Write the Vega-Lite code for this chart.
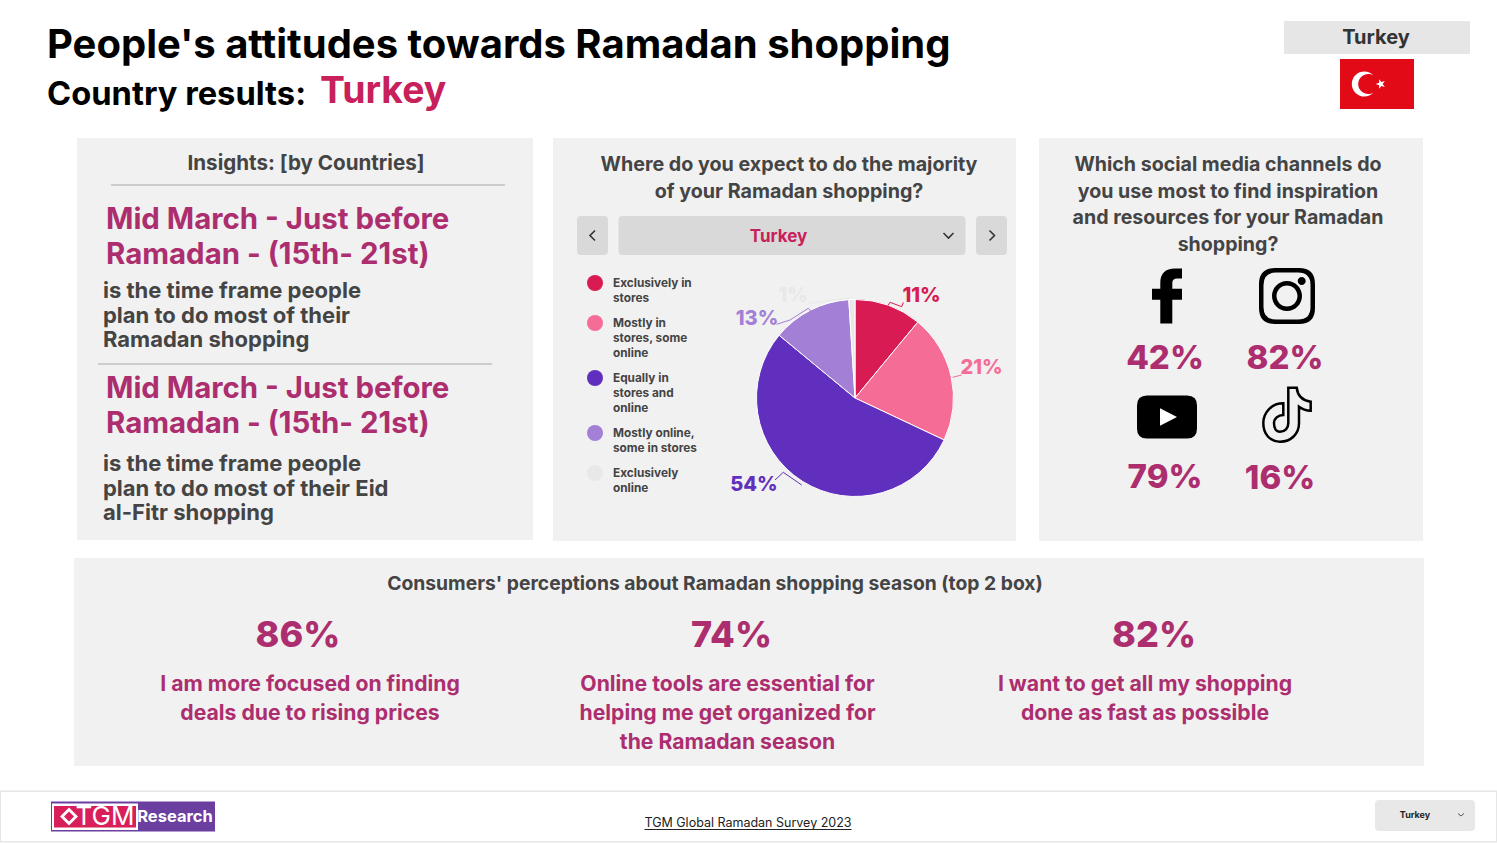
{
  "$schema": "https://vega.github.io/schema/vega-lite/v6.json",
  "description": "TGM Global Ramadan Survey 2023, country results for Turkey.",
  "padding": 0,
  "background": "#ffffff",
  "resolve": {"scale": {"shape": "independent"}},
  "config": {
    "view": {"stroke": null},
    "concat": {"spacing": 0},
    "text": {"font": "Inter", "fontWeight": "bold"},
    "point": {"opacity": 1, "size": 4}
  },
  "vconcat": [
    {
      "hconcat": [
        {
          "width": 1284,
          "height": 138,
          "layer": [
            {
              "data": {"values": [{"text": "People's attitudes towards Ramadan shopping"}]},
              "mark": {"type": "text", "align": "left", "baseline": "alphabetic", "fontSize": 40, "dx": -595, "dy": -11, "color": "#000000"},
              "encoding": {"text": {"field": "text"}}
            },
            {
              "data": {"values": [{"text": "Country results:"}]},
              "mark": {"type": "text", "align": "left", "baseline": "alphabetic", "fontSize": 32.7, "dx": -595, "dy": 36, "color": "#000000"},
              "encoding": {"text": {"field": "text"}}
            },
            {
              "data": {"values": [{"text": "Turkey"}]},
              "mark": {"type": "text", "align": "left", "baseline": "alphabetic", "fontSize": 37.4, "dx": -322, "dy": 34, "color": "#c8205a"},
              "encoding": {"text": {"field": "text"}}
            }
          ]
        },
        {
          "vconcat": [
            {"width": 186, "height": 21, "data": {"values": [{}]}, "mark": {"type": "point", "size": 0, "opacity": 0}, "encoding": {}},
            {
              "width": 186,
              "height": 33,
              "view": {"fill": "#e6e6e6"},
              "data": {"values": [{"text": "Turkey"}]},
              "mark": {"type": "text", "fontSize": 20, "color": "#333333", "dx": -1},
              "encoding": {"text": {"field": "text"}}
            },
            {"width": 186, "height": 5, "data": {"values": [{}]}, "mark": {"type": "point", "size": 0, "opacity": 0}, "encoding": {}},
            {
              "hconcat": [
                {"width": 56, "height": 50, "data": {"values": [{}]}, "mark": {"type": "point", "size": 0, "opacity": 0}, "encoding": {}},
                {
                  "width": 74,
                  "height": 50,
                  "view": {"fill": "#e30a17"},
                  "data": {"values": [{"flag": "Turkey"}]},
                  "mark": {
                    "type": "point",
                    "filled": true,
                    "color": "#ffffff",
                    "shape": "M -3.5 -8.5 A 12.5 12.5 0 1 0 -3.5 8.5 A 10 10 0 1 1 -3.5 -8.5 Z M -1.3 0 L 2.08 -1.18 L 2.15 -4.76 L 4.32 -1.9 L 7.75 -2.94 L 5.7 0 L 7.75 2.94 L 4.32 1.9 L 2.15 4.76 L 2.08 1.18 Z"
                  },
                  "encoding": {}
                },
                {"width": 56, "height": 50, "data": {"values": [{}]}, "mark": {"type": "point", "size": 0, "opacity": 0}, "encoding": {}}
              ]
            },
            {"width": 186, "height": 29, "data": {"values": [{}]}, "mark": {"type": "point", "size": 0, "opacity": 0}, "encoding": {}}
          ]
        },
        {"width": 27, "height": 138, "data": {"values": [{}]}, "mark": {"type": "point", "size": 0, "opacity": 0}, "encoding": {}}
      ]
    },
    {
      "resolve": {"scale": {"shape": "independent"}},
      "hconcat": [
        {"width": 77, "height": 403, "data": {"values": [{}]}, "mark": {"type": "point", "size": 0, "opacity": 0}, "encoding": {}},
        {
          "width": 456,
          "height": 402,
          "view": {"fill": "#f1f1f1"},
          "layer": [
            {
              "data": {"values": [{"text": "Insights: [by Countries]"}]},
              "mark": {"type": "text", "fontSize": 20.6, "color": "#444444", "dx": 1, "dy": -169.5, "baseline": "alphabetic"},
              "encoding": {"text": {"field": "text"}}
            },
            {
              "data": {"values": [{"divider": "first"}, {"divider": "second"}]},
              "transform": [{"filter": "datum.divider == 'first'"}],
              "mark": {"type": "rule", "color": "#a8a8a8", "strokeWidth": 1},
              "encoding": {
                "x": {"datum": 0, "type": "quantitative", "scale": {"domain": [0, 1], "range": [34, 428]}, "axis": null},
                "x2": {"datum": 1},
                "y": {"field": "divider", "type": "nominal", "scale": {"type": "point", "domain": ["first", "second"], "range": [47, 226], "padding": 0}, "axis": null}
              }
            },
            {
              "data": {"values": [{"divider": "first"}, {"divider": "second"}]},
              "transform": [{"filter": "datum.divider == 'second'"}],
              "mark": {"type": "rule", "color": "#a8a8a8", "strokeWidth": 1, "xOffset": -13, "x2Offset": -13},
              "encoding": {
                "x": {"datum": 0, "type": "quantitative", "scale": {"domain": [0, 1], "range": [34, 428]}, "axis": null},
                "x2": {"datum": 1},
                "y": {"field": "divider", "type": "nominal", "scale": {"type": "point", "domain": ["first", "second"], "range": [47, 226], "padding": 0}, "axis": null}
              }
            },
            {
              "data": {"values": [{"text": "Mid March - Just before\nRamadan - (15th- 21st)"}]},
              "mark": {"type": "text", "align": "left", "baseline": "alphabetic", "lineBreak": "\n", "lineHeight": 35, "fontSize": 29.4, "color": "#ad2e6f", "dx": -199, "dy": -110},
              "encoding": {"text": {"field": "text"}}
            },
            {
              "data": {"values": [{"text": "is the time frame people\nplan to do most of their\nRamadan shopping"}]},
              "mark": {"type": "text", "align": "left", "baseline": "alphabetic", "lineBreak": "\n", "lineHeight": 24.5, "fontSize": 22, "color": "#444444", "dx": -202, "dy": -41},
              "encoding": {"text": {"field": "text"}}
            },
            {
              "data": {"values": [{"text": "Mid March - Just before\nRamadan - (15th- 21st)"}]},
              "mark": {"type": "text", "align": "left", "baseline": "alphabetic", "lineBreak": "\n", "lineHeight": 35, "fontSize": 29.4, "color": "#ad2e6f", "dx": -199, "dy": 59},
              "encoding": {"text": {"field": "text"}}
            },
            {
              "data": {"values": [{"text": "is the time frame people\nplan to do most of their Eid\nal-Fitr shopping"}]},
              "mark": {"type": "text", "align": "left", "baseline": "alphabetic", "lineBreak": "\n", "lineHeight": 24.5, "fontSize": 22, "color": "#444444", "dx": -202, "dy": 132},
              "encoding": {"text": {"field": "text"}}
            }
          ]
        },
        {"width": 20, "height": 403, "data": {"values": [{}]}, "mark": {"type": "point", "size": 0, "opacity": 0}, "encoding": {}},
        {
          "resolve": {"scale": {"shape": "independent"}},
          "vconcat": [
            {
              "width": 463,
              "height": 78,
              "view": {"fill": "#f1f1f1"},
              "data": {"values": [{"text": "Where do you expect to do the majority\nof your Ramadan shopping?"}]},
              "mark": {"type": "text", "baseline": "alphabetic", "lineBreak": "\n", "lineHeight": 26.5, "fontSize": 19.7, "color": "#444444", "dx": 4.5, "dy": -6},
              "encoding": {"text": {"field": "text"}}
            },
            {
              "width": 463,
              "height": 39,
              "view": {"fill": "#f1f1f1"},
              "data": {"values": [{"control": "prev"}, {"control": "menu", "text": "Turkey"}, {"control": "next"}]},
              "encoding": {
                "x": {"field": "control", "type": "nominal", "scale": {"type": "point", "domain": ["prev", "menu", "next"], "range": [39.5, 438.5], "padding": 0}, "axis": null}
              },
              "resolve": {"scale": {"shape": "independent"}},
              "layer": [
                {
                  "mark": {"type": "point", "filled": true, "color": "#d9d9d9"},
                  "encoding": {
                    "shape": {
                      "field": "control",
                      "type": "nominal",
                      "legend": null,
                      "scale": {
                        "domain": ["prev", "menu", "next"],
                        "range": [
                          "M -11.5 -19.5 L 11.5 -19.5 Q 15.5 -19.5 15.5 -15.5 L 15.5 15.5 Q 15.5 19.5 11.5 19.5 L -11.5 19.5 Q -15.5 19.5 -15.5 15.5 L -15.5 -15.5 Q -15.5 -19.5 -11.5 -19.5 Z",
                          "M -169.5 -19.5 L 169.5 -19.5 Q 173.5 -19.5 173.5 -15.5 L 173.5 15.5 Q 173.5 19.5 169.5 19.5 L -169.5 19.5 Q -173.5 19.5 -173.5 15.5 L -173.5 -15.5 Q -173.5 -19.5 -169.5 -19.5 Z",
                          "M -11.5 -19.5 L 11.5 -19.5 Q 15.5 -19.5 15.5 -15.5 L 15.5 15.5 Q 15.5 19.5 11.5 19.5 L -11.5 19.5 Q -15.5 19.5 -15.5 15.5 L -15.5 -15.5 Q -15.5 -19.5 -11.5 -19.5 Z"
                        ]
                      }
                    }
                  }
                },
                {
                  "mark": {"type": "point", "filled": false, "color": "#333333", "strokeWidth": 1.6},
                  "encoding": {
                    "shape": {
                      "field": "control",
                      "type": "nominal",
                      "legend": null,
                      "scale": {
                        "domain": ["prev", "menu", "next"],
                        "range": [
                          "M 2.5 -5 L -2.5 0 L 2.5 5",
                          "M 151.5 -2.5 L 156.5 2.5 L 161.5 -2.5",
                          "M -2 -5 L 3 0 L -2 5"
                        ]
                      }
                    }
                  }
                },
                {
                  "transform": [{"filter": "datum.control == 'menu'"}],
                  "mark": {"type": "text", "fontSize": 17, "color": "#c8205a", "dx": -13.5, "dy": 1},
                  "encoding": {"text": {"field": "text"}}
                }
              ]
            },
            {
              "resolve": {"scale": {"shape": "independent"}},
              "hconcat": [
                {"width": 141, "height": 286, "view": {"fill": "#f1f1f1"}, "data": {"values": [{}]}, "mark": {"type": "point", "size": 0, "opacity": 0}, "encoding": {}},
                {
                  "width": 322,
                  "height": 286,
                  "view": {"fill": "#f1f1f1"},
                  "data": {
                    "values": [
                      {"answer": "Exclusively in\nstores", "share": 0.11, "rank": 1},
                      {"answer": "Mostly in\nstores, some\nonline", "share": 0.21, "rank": 2},
                      {"answer": "Equally in\nstores and\nonline", "share": 0.54, "rank": 3},
                      {"answer": "Mostly online,\nsome in stores", "share": 0.13, "rank": 4},
                      {"answer": "Exclusively\nonline", "share": 0.01, "rank": 5}
                    ]
                  },
                  "layer": [
                    {
                      "mark": {"type": "arc", "outerRadius": 98.5, "stroke": "#ffffff", "strokeWidth": 1},
                      "encoding": {
                        "theta": {"field": "share", "type": "quantitative", "stack": true},
                        "order": {"field": "rank", "type": "quantitative"},
                        "color": {
                          "field": "answer",
                          "type": "nominal",
                          "scale": {
                            "domain": ["Exclusively in\nstores", "Mostly in\nstores, some\nonline", "Equally in\nstores and\nonline", "Mostly online,\nsome in stores", "Exclusively\nonline"],
                            "range": ["#d81b52", "#f56d96", "#612fbd", "#a47fd6", "#e8e8e8"]
                          },
                          "legend": {
                            "orient": "none",
                            "legendX": 587,
                            "legendY": 275,
                            "title": null,
                            "symbolType": "circle",
                            "symbolSize": 256,
                            "symbolStrokeWidth": 0,
                            "labelFont": "Inter",
                            "labelFontWeight": "bold",
                            "labelFontSize": 11.8,
                            "labelColor": "#444444",
                            "labelOffset": 10,
                            "labelLimit": 200,
                            "labelBaseline": "top",
                            "rowPadding": 10,
                            "labelExpr": "split(datum.label, '\\n')",
                            "encoding": {"labels": {"lineHeight": {"value": 15}, "dy": {"value": -5}}}
                          }
                        }
                      }
                    },
                    {
                      "mark": {"type": "point", "filled": false, "strokeWidth": 1},
                      "encoding": {
                        "color": {"field": "answer", "type": "nominal", "legend": null},
                        "shape": {
                          "field": "answer",
                          "type": "nominal",
                          "legend": null,
                          "scale": {
                            "domain": ["Exclusively in\nstores", "Mostly in\nstores, some\nonline", "Equally in\nstores and\nonline", "Mostly online,\nsome in stores", "Exclusively\nonline"],
                            "range": [
                              "M 33.3 -93 L 35 -95.7 L 46.7 -91.3 L 48.3 -95.7",
                              "M 97.7 -20.7 L 106.7 -23",
                              "M -80 82 L -71.7 74.3 L -53.3 87",
                              "M -78.3 -73.7 L -65 -78 L -46.7 -89.7 L -44.3 -87",
                              "M -46.7 -94.7 L -5 -100"
                            ]
                          }
                        }
                      }
                    },
                    {
                      "transform": [{"filter": "datum.rank == 1"}],
                      "mark": {"type": "text", "fontSize": 20, "fontWeight": 800, "color": "#d81b52", "dx": 66.5, "dy": -102},
                      "encoding": {"text": {"field": "share", "type": "quantitative", "format": ".0%"}}
                    },
                    {
                      "transform": [{"filter": "datum.rank == 2"}],
                      "mark": {"type": "text", "fontSize": 20, "fontWeight": 800, "color": "#f56d96", "dx": 126.5, "dy": -30},
                      "encoding": {"text": {"field": "share", "type": "quantitative", "format": ".0%"}}
                    },
                    {
                      "transform": [{"filter": "datum.rank == 3"}],
                      "mark": {"type": "text", "fontSize": 20, "fontWeight": 800, "color": "#612fbd", "dx": -101, "dy": 87},
                      "encoding": {"text": {"field": "share", "type": "quantitative", "format": ".0%"}}
                    },
                    {
                      "transform": [{"filter": "datum.rank == 4"}],
                      "mark": {"type": "text", "fontSize": 20, "fontWeight": 800, "color": "#a47fd6", "dx": -98, "dy": -79.5},
                      "encoding": {"text": {"field": "share", "type": "quantitative", "format": ".0%"}}
                    },
                    {
                      "transform": [{"filter": "datum.rank == 5"}],
                      "mark": {"type": "text", "fontSize": 20, "fontWeight": 800, "color": "#e8e8e8", "dx": -62, "dy": -102},
                      "encoding": {"text": {"field": "share", "type": "quantitative", "format": ".0%"}}
                    }
                  ]
                }
              ]
            }
          ]
        },
        {"width": 23, "height": 403, "data": {"values": [{}]}, "mark": {"type": "point", "size": 0, "opacity": 0}, "encoding": {}},
        {
          "width": 384,
          "height": 403,
          "view": {"fill": "#f1f1f1"},
          "layer": [
            {
              "data": {"values": [{"text": "Which social media channels do\nyou use most to find inspiration\nand resources for your Ramadan\nshopping?"}]},
              "mark": {"type": "text", "baseline": "alphabetic", "lineBreak": "\n", "lineHeight": 26.7, "fontSize": 19.6, "color": "#444444", "dx": -3, "dy": -168.5},
              "encoding": {"text": {"field": "text"}}
            },
            {
              "data": {
                "values": [
                  {"channel": "Facebook", "share": 0.42, "column": "left", "row": "upper"},
                  {"channel": "Instagram", "share": 0.82, "column": "right", "row": "upper"},
                  {"channel": "YouTube", "share": 0.79, "column": "left", "row": "lower"},
                  {"channel": "TikTok", "share": 0.16, "column": "right", "row": "lower"}
                ]
              },
              "encoding": {
                "x": {"field": "column", "type": "nominal", "scale": {"type": "point", "domain": ["left", "right"], "range": [128, 248], "padding": 0}, "axis": null},
                "y": {"field": "row", "type": "nominal", "scale": {"type": "point", "domain": ["upper", "lower"], "range": [158, 279], "padding": 0}, "axis": null}
              },
              "layer": [
                {
                  "transform": [{"filter": "datum.channel != 'TikTok'"}],
                  "mark": {"type": "point", "filled": true, "color": "#000000"},
                  "encoding": {
                    "shape": {
                      "field": "channel",
                      "type": "nominal",
                      "legend": null,
                      "scale": {
                        "domain": ["Facebook", "Instagram", "YouTube"],
                        "range": [
                          "M 15 -27.5 L 15 -17.5 L 10 -17.5 Q 5.3 -17.5 5.3 -13 L 5.3 -7.3 L 15 -7.3 L 15 3.7 L 5.3 3.7 L 5.3 27.5 L -6.7 27.5 L -6.7 3.7 L -15 3.7 L -15 -7.3 L -6.7 -7.3 L -6.7 -13 Q -6.7 -27.5 8 -27.5 Z",
                          "M -12 -28 L 12 -28 Q 28 -28 28 -12 L 28 12 Q 28 28 12 28 L -12 28 Q -28 28 -28 12 L -28 -12 Q -28 -28 -12 -28 Z M -11 -23.5 Q -23.5 -23.5 -23.5 -11 L -23.5 11 Q -23.5 23.5 -11 23.5 L 11 23.5 Q 23.5 23.5 23.5 11 L 23.5 -11 Q 23.5 -23.5 11 -23.5 Z M -15 0 A 15 15 0 1 1 15 0 A 15 15 0 1 1 -15 0 Z M -10.5 0 A 10.5 10.5 0 1 0 10.5 0 A 10.5 10.5 0 1 0 -10.5 0 Z M 10.7 -15 A 4 4 0 1 1 18.7 -15 A 4 4 0 1 1 10.7 -15 Z",
                          "M -20 -21.5 L 20 -21.5 Q 30 -21.5 30 -11.5 L 30 11.5 Q 30 21.5 20 21.5 L -20 21.5 Q -30 21.5 -30 11.5 L -30 -11.5 Q -30 -21.5 -20 -21.5 Z"
                        ]
                      }
                    }
                  }
                },
                {
                  "transform": [{"filter": "datum.channel == 'YouTube'"}],
                  "mark": {"type": "point", "filled": true, "color": "#ffffff", "shape": "M -7 -8.7 L 10 0 L -7 8.7 Z"}
                },
                {
                  "transform": [{"filter": "datum.channel == 'TikTok'"}],
                  "mark": {
                    "type": "point",
                    "filled": false,
                    "color": "#000000",
                    "strokeWidth": 2.5,
                    "shape": "M 1.3 -29.3 L 9.7 -29.3 Q 11 -17 23.7 -15.3 L 23.7 -6.3 Q 17 -6.5 12 -10.3 L 12 6.3 C 12 17 4 24.7 -7 24.7 C -17 24.7 -23.7 17 -23.7 6.3 C -23.7 -5 -15 -13.7 -3.7 -13.7 L -3.7 -2 C -9 -2 -13 1.5 -13 6.3 C -13 11 -11 14.7 -7 14.7 C -2 14.7 1.3 11 1.3 6.3 Z"
                  }
                },
                {
                  "transform": [{"filter": "datum.row == 'upper'"}],
                  "mark": {"type": "text", "fontSize": 33, "fontWeight": 800, "color": "#ad2e6f", "dx": -2, "dy": 62.5},
                  "encoding": {"text": {"field": "share", "type": "quantitative", "format": ".0%"}}
                },
                {
                  "transform": [{"filter": "datum.channel == 'YouTube'"}],
                  "mark": {"type": "text", "fontSize": 33, "fontWeight": 800, "color": "#ad2e6f", "dx": -2, "dy": 60.5},
                  "encoding": {"text": {"field": "share", "type": "quantitative", "format": ".0%"}}
                },
                {
                  "transform": [{"filter": "datum.channel == 'TikTok'"}],
                  "mark": {"type": "text", "fontSize": 33, "fontWeight": 800, "color": "#ad2e6f", "dx": -7, "dy": 61.5},
                  "encoding": {"text": {"field": "share", "type": "quantitative", "format": ".0%"}}
                }
              ]
            }
          ]
        },
        {"width": 74, "height": 403, "data": {"values": [{}]}, "mark": {"type": "point", "size": 0, "opacity": 0}, "encoding": {}}
      ]
    },
    {"width": 1497, "height": 17, "data": {"values": [{}]}, "mark": {"type": "point", "size": 0, "opacity": 0}, "encoding": {}},
    {
      "hconcat": [
        {"width": 74, "height": 208, "data": {"values": [{}]}, "mark": {"type": "point", "size": 0, "opacity": 0}, "encoding": {}},
        {
          "width": 1350,
          "height": 208,
          "view": {"fill": "#f1f1f1"},
          "layer": [
            {
              "data": {"values": [{"text": "Consumers' perceptions about Ramadan shopping season (top 2 box)"}]},
              "mark": {"type": "text", "fontSize": 19.3, "color": "#444444", "dx": -34, "dy": -78},
              "encoding": {"text": {"field": "text"}}
            },
            {
              "data": {
                "values": [
                  {"column": "a", "agree": 0.86, "statement": "I am more focused on finding\ndeals due to rising prices"},
                  {"column": "b", "agree": 0.74, "statement": "Online tools are essential for\nhelping me get organized for\nthe Ramadan season"},
                  {"column": "c", "agree": 0.82, "statement": "I want to get all my shopping\ndone as fast as possible"}
                ]
              },
              "encoding": {
                "x": {"field": "column", "type": "nominal", "scale": {"type": "point", "domain": ["a", "b", "c"], "range": [236, 1071], "padding": 0}, "axis": null}
              },
              "layer": [
                {
                  "mark": {"type": "text", "baseline": "alphabetic", "lineBreak": "\n", "lineHeight": 29, "fontSize": 21.2, "color": "#ad2e6f", "dy": 29},
                  "encoding": {"text": {"field": "statement"}}
                },
                {
                  "transform": [{"filter": "datum.column == 'a'"}],
                  "mark": {"type": "text", "fontSize": 36, "fontWeight": 800, "color": "#ad2e6f", "dx": -12, "dy": -26},
                  "encoding": {"text": {"field": "agree", "type": "quantitative", "format": ".0%"}}
                },
                {
                  "transform": [{"filter": "datum.column == 'b'"}],
                  "mark": {"type": "text", "fontSize": 36, "fontWeight": 800, "color": "#ad2e6f", "dx": 4, "dy": -26},
                  "encoding": {"text": {"field": "agree", "type": "quantitative", "format": ".0%"}}
                },
                {
                  "transform": [{"filter": "datum.column == 'c'"}],
                  "mark": {"type": "text", "fontSize": 36, "fontWeight": 800, "color": "#ad2e6f", "dx": 9, "dy": -26},
                  "encoding": {"text": {"field": "agree", "type": "quantitative", "format": ".0%"}}
                }
              ]
            }
          ]
        },
        {"width": 73, "height": 208, "data": {"values": [{}]}, "mark": {"type": "point", "size": 0, "opacity": 0}, "encoding": {}}
      ]
    },
    {"width": 1497, "height": 24, "data": {"values": [{}]}, "mark": {"type": "point", "size": 0, "opacity": 0}, "encoding": {}},
    {
      "width": 1497,
      "height": 53,
      "data": {"values": [{"item": "logo"}, {"item": "link"}, {"item": "menu"}]},
      "encoding": {
        "x": {"field": "item", "type": "nominal", "scale": {"type": "point", "domain": ["logo", "link", "menu"], "range": [133, 1363], "padding": 0}, "axis": null}
      },
      "layer": [
        {
          "transform": [{"filter": "datum.item == 'link'"}],
          "mark": {"type": "point", "filled": true, "color": "#e6e6e6", "shape": "M -748 -26 L 749 -26 L 749 26 L -748 26 Z M -747 -24.5 L -747 24.5 L 748 24.5 L 748 -24.5 Z"}
        },
        {
          "transform": [{"filter": "datum.item == 'logo'"}],
          "mark": {"type": "point", "filled": true, "color": "#6a3fa0", "shape": "M -82 -15 L 82 -15 L 82 15 L -82 15 Z"}
        },
        {
          "transform": [{"filter": "datum.item == 'logo'"}],
          "mark": {"type": "point", "filled": true, "color": "#ffffff", "shape": "M -81 -13 L 5 -13 L 5 13.5 L -81 13.5 Z"}
        },
        {
          "transform": [{"filter": "datum.item == 'logo'"}],
          "mark": {"type": "point", "filled": true, "color": "#d81f5a", "shape": "M -79 -10.5 L 3 -10.5 L 3 11 L -79 11 Z"}
        },
        {
          "transform": [{"filter": "datum.item == 'logo'"}],
          "mark": {"type": "point", "filled": true, "color": "#ffffff", "shape": "M -64 -9 L -55 0 L -64 9 L -73 0 Z M -64 -5 L -69 0 L -64 5 L -59 0 Z"}
        },
        {
          "data": {"values": [{"item": "logo", "text": "TGM"}]},
          "mark": {"type": "text", "fontSize": 26, "fontWeight": "normal", "color": "#ffffff", "dx": -28},
          "encoding": {"text": {"field": "text"}}
        },
        {
          "data": {"values": [{"item": "logo", "text": "Research"}]},
          "mark": {"type": "text", "fontSize": 16.5, "color": "#ffffff", "dx": 42},
          "encoding": {"text": {"field": "text"}}
        },
        {
          "data": {"values": [{"item": "link", "text": "TGM Global Ramadan Survey 2023"}]},
          "mark": {"type": "text", "fontSize": 12.5, "fontWeight": "normal", "color": "#222222", "dy": 6},
          "encoding": {"text": {"field": "text"}}
        },
        {
          "transform": [{"filter": "datum.item == 'link'"}],
          "mark": {"type": "point", "filled": false, "color": "#222222", "strokeWidth": 1, "shape": "M -103.5 13 L 103.5 13"}
        },
        {
          "transform": [{"filter": "datum.item == 'menu'"}],
          "mark": {"type": "point", "filled": true, "color": "#e8e8e8", "shape": "M 16 -16.5 L 108 -16.5 Q 112 -16.5 112 -12.5 L 112 10.5 Q 112 14.5 108 14.5 L 16 14.5 Q 12 14.5 12 10.5 L 12 -12.5 Q 12 -16.5 16 -16.5 Z"}
        },
        {
          "transform": [{"filter": "datum.item == 'menu'"}],
          "mark": {"type": "point", "filled": false, "color": "#555555", "strokeWidth": 1, "shape": "M 95 -3 L 98 -0.5 L 101 -3"}
        },
        {
          "data": {"values": [{"item": "menu", "text": "Turkey"}]},
          "mark": {"type": "text", "fontSize": 9, "color": "#222222", "dx": 52, "dy": -2},
          "encoding": {"text": {"field": "text"}}
        }
      ]
    }
  ]
}
